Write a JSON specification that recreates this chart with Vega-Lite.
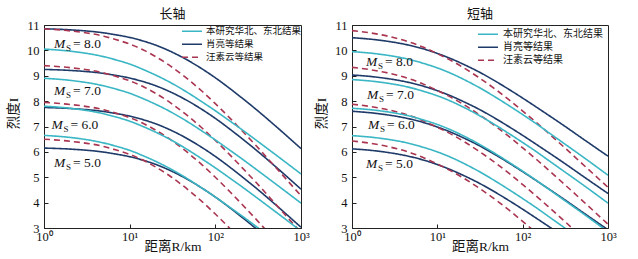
{
"$schema":"https://vega.github.io/schema/vega-lite/v6.json",
"padding":{"left":6,"top":7,"right":0,"bottom":0},
"bounds":"flush",
"spacing":51,
"config":{"view":{"stroke":"#222","strokeWidth":1},"font":"Liberation Serif, Noto Sans CJK SC","axis":{"grid":false,"domainColor":"#222","tickColor":"#222","labelColor":"#111","titleColor":"#111","labelFont":"Liberation Serif","labelFontSize":12.5,"labelOverlap":false,"titleFont":"Liberation Serif, Noto Sans CJK SC","titleFontSize":13.5,"titleFontWeight":"normal"}},
"datasets":{
"curves":[
{"p":"L","s":"b","m":8,"r":1,"i":10.85},{"p":"L","s":"b","m":8,"r":2,"i":10.81},{"p":"L","s":"b","m":8,"r":5,"i":10.69},{"p":"L","s":"b","m":8,"r":7,"i":10.61},{"p":"L","s":"b","m":8,"r":10,"i":10.51},{"p":"L","s":"b","m":8,"r":15,"i":10.35},{"p":"L","s":"b","m":8,"r":20,"i":10.21},{"p":"L","s":"b","m":8,"r":30,"i":9.96},{"p":"L","s":"b","m":8,"r":50,"i":9.57},{"p":"L","s":"b","m":8,"r":70,"i":9.27},{"p":"L","s":"b","m":8,"r":100,"i":8.92},{"p":"L","s":"b","m":8,"r":150,"i":8.48},{"p":"L","s":"b","m":8,"r":200,"i":8.15},{"p":"L","s":"b","m":8,"r":300,"i":7.67},{"p":"L","s":"b","m":8,"r":500,"i":7.03},{"p":"L","s":"b","m":8,"r":1000,"i":6.13},
{"p":"L","s":"b","m":7,"r":1,"i":9.25},{"p":"L","s":"b","m":7,"r":2,"i":9.21},{"p":"L","s":"b","m":7,"r":5,"i":9.09},{"p":"L","s":"b","m":7,"r":7,"i":9.01},{"p":"L","s":"b","m":7,"r":10,"i":8.91},{"p":"L","s":"b","m":7,"r":15,"i":8.75},{"p":"L","s":"b","m":7,"r":20,"i":8.61},{"p":"L","s":"b","m":7,"r":30,"i":8.36},{"p":"L","s":"b","m":7,"r":50,"i":7.97},{"p":"L","s":"b","m":7,"r":70,"i":7.67},{"p":"L","s":"b","m":7,"r":100,"i":7.32},{"p":"L","s":"b","m":7,"r":150,"i":6.88},{"p":"L","s":"b","m":7,"r":200,"i":6.55},{"p":"L","s":"b","m":7,"r":300,"i":6.07},{"p":"L","s":"b","m":7,"r":500,"i":5.43},{"p":"L","s":"b","m":7,"r":1000,"i":4.53},
{"p":"L","s":"b","m":6,"r":1,"i":7.75},{"p":"L","s":"b","m":6,"r":2,"i":7.71},{"p":"L","s":"b","m":6,"r":5,"i":7.59},{"p":"L","s":"b","m":6,"r":7,"i":7.51},{"p":"L","s":"b","m":6,"r":10,"i":7.41},{"p":"L","s":"b","m":6,"r":15,"i":7.25},{"p":"L","s":"b","m":6,"r":20,"i":7.11},{"p":"L","s":"b","m":6,"r":30,"i":6.86},{"p":"L","s":"b","m":6,"r":50,"i":6.47},{"p":"L","s":"b","m":6,"r":70,"i":6.17},{"p":"L","s":"b","m":6,"r":100,"i":5.82},{"p":"L","s":"b","m":6,"r":150,"i":5.38},{"p":"L","s":"b","m":6,"r":200,"i":5.05},{"p":"L","s":"b","m":6,"r":300,"i":4.57},{"p":"L","s":"b","m":6,"r":500,"i":3.93},{"p":"L","s":"b","m":6,"r":1000,"i":3.03},
{"p":"L","s":"b","m":5,"r":1,"i":6.15},{"p":"L","s":"b","m":5,"r":2,"i":6.11},{"p":"L","s":"b","m":5,"r":5,"i":5.99},{"p":"L","s":"b","m":5,"r":7,"i":5.91},{"p":"L","s":"b","m":5,"r":10,"i":5.81},{"p":"L","s":"b","m":5,"r":15,"i":5.65},{"p":"L","s":"b","m":5,"r":20,"i":5.51},{"p":"L","s":"b","m":5,"r":30,"i":5.26},{"p":"L","s":"b","m":5,"r":50,"i":4.87},{"p":"L","s":"b","m":5,"r":70,"i":4.57},{"p":"L","s":"b","m":5,"r":100,"i":4.22},{"p":"L","s":"b","m":5,"r":150,"i":3.78},{"p":"L","s":"b","m":5,"r":200,"i":3.45},{"p":"L","s":"b","m":5,"r":300,"i":2.97},{"p":"L","s":"b","m":5,"r":500,"i":2.33},{"p":"L","s":"b","m":5,"r":1000,"i":1.43},
{"p":"L","s":"c","m":8,"r":1,"i":10.85},{"p":"L","s":"c","m":8,"r":2,"i":10.77},{"p":"L","s":"c","m":8,"r":5,"i":10.56},{"p":"L","s":"c","m":8,"r":7,"i":10.42},{"p":"L","s":"c","m":8,"r":10,"i":10.25},{"p":"L","s":"c","m":8,"r":15,"i":9.99},{"p":"L","s":"c","m":8,"r":20,"i":9.76},{"p":"L","s":"c","m":8,"r":30,"i":9.38},{"p":"L","s":"c","m":8,"r":50,"i":8.81},{"p":"L","s":"c","m":8,"r":70,"i":8.39},{"p":"L","s":"c","m":8,"r":100,"i":7.90},{"p":"L","s":"c","m":8,"r":150,"i":7.31},{"p":"L","s":"c","m":8,"r":200,"i":6.87},{"p":"L","s":"c","m":8,"r":300,"i":6.24},{"p":"L","s":"c","m":8,"r":500,"i":5.41},{"p":"L","s":"c","m":8,"r":1000,"i":4.27},
{"p":"L","s":"c","m":7,"r":1,"i":9.40},{"p":"L","s":"c","m":7,"r":2,"i":9.32},{"p":"L","s":"c","m":7,"r":5,"i":9.11},{"p":"L","s":"c","m":7,"r":7,"i":8.97},{"p":"L","s":"c","m":7,"r":10,"i":8.80},{"p":"L","s":"c","m":7,"r":15,"i":8.54},{"p":"L","s":"c","m":7,"r":20,"i":8.31},{"p":"L","s":"c","m":7,"r":30,"i":7.93},{"p":"L","s":"c","m":7,"r":50,"i":7.36},{"p":"L","s":"c","m":7,"r":70,"i":6.94},{"p":"L","s":"c","m":7,"r":100,"i":6.45},{"p":"L","s":"c","m":7,"r":150,"i":5.86},{"p":"L","s":"c","m":7,"r":200,"i":5.42},{"p":"L","s":"c","m":7,"r":300,"i":4.79},{"p":"L","s":"c","m":7,"r":500,"i":3.96},{"p":"L","s":"c","m":7,"r":1000,"i":2.82},
{"p":"L","s":"c","m":6,"r":1,"i":7.95},{"p":"L","s":"c","m":6,"r":2,"i":7.87},{"p":"L","s":"c","m":6,"r":5,"i":7.66},{"p":"L","s":"c","m":6,"r":7,"i":7.52},{"p":"L","s":"c","m":6,"r":10,"i":7.35},{"p":"L","s":"c","m":6,"r":15,"i":7.09},{"p":"L","s":"c","m":6,"r":20,"i":6.86},{"p":"L","s":"c","m":6,"r":30,"i":6.48},{"p":"L","s":"c","m":6,"r":50,"i":5.91},{"p":"L","s":"c","m":6,"r":70,"i":5.49},{"p":"L","s":"c","m":6,"r":100,"i":5.00},{"p":"L","s":"c","m":6,"r":150,"i":4.41},{"p":"L","s":"c","m":6,"r":200,"i":3.97},{"p":"L","s":"c","m":6,"r":300,"i":3.34},{"p":"L","s":"c","m":6,"r":500,"i":2.51},{"p":"L","s":"c","m":6,"r":1000,"i":1.37},
{"p":"L","s":"c","m":5,"r":1,"i":6.50},{"p":"L","s":"c","m":5,"r":2,"i":6.42},{"p":"L","s":"c","m":5,"r":5,"i":6.21},{"p":"L","s":"c","m":5,"r":7,"i":6.07},{"p":"L","s":"c","m":5,"r":10,"i":5.90},{"p":"L","s":"c","m":5,"r":15,"i":5.64},{"p":"L","s":"c","m":5,"r":20,"i":5.41},{"p":"L","s":"c","m":5,"r":30,"i":5.03},{"p":"L","s":"c","m":5,"r":50,"i":4.46},{"p":"L","s":"c","m":5,"r":70,"i":4.04},{"p":"L","s":"c","m":5,"r":100,"i":3.55},{"p":"L","s":"c","m":5,"r":150,"i":2.96},{"p":"L","s":"c","m":5,"r":200,"i":2.52},{"p":"L","s":"c","m":5,"r":300,"i":1.89},{"p":"L","s":"c","m":5,"r":500,"i":1.06},{"p":"L","s":"c","m":5,"r":1000,"i":-0.08},
{"p":"L","s":"a","m":8,"r":1,"i":10.05},{"p":"L","s":"a","m":8,"r":2,"i":9.97},{"p":"L","s":"a","m":8,"r":5,"i":9.75},{"p":"L","s":"a","m":8,"r":7,"i":9.62},{"p":"L","s":"a","m":8,"r":10,"i":9.46},{"p":"L","s":"a","m":8,"r":15,"i":9.22},{"p":"L","s":"a","m":8,"r":20,"i":9.03},{"p":"L","s":"a","m":8,"r":30,"i":8.73},{"p":"L","s":"a","m":8,"r":50,"i":8.29},{"p":"L","s":"a","m":8,"r":70,"i":7.97},{"p":"L","s":"a","m":8,"r":100,"i":7.62},{"p":"L","s":"a","m":8,"r":150,"i":7.20},{"p":"L","s":"a","m":8,"r":200,"i":6.90},{"p":"L","s":"a","m":8,"r":300,"i":6.46},{"p":"L","s":"a","m":8,"r":500,"i":5.90},{"p":"L","s":"a","m":8,"r":1000,"i":5.13},
{"p":"L","s":"a","m":7,"r":1,"i":8.90},{"p":"L","s":"a","m":7,"r":2,"i":8.82},{"p":"L","s":"a","m":7,"r":5,"i":8.60},{"p":"L","s":"a","m":7,"r":7,"i":8.47},{"p":"L","s":"a","m":7,"r":10,"i":8.31},{"p":"L","s":"a","m":7,"r":15,"i":8.07},{"p":"L","s":"a","m":7,"r":20,"i":7.88},{"p":"L","s":"a","m":7,"r":30,"i":7.58},{"p":"L","s":"a","m":7,"r":50,"i":7.14},{"p":"L","s":"a","m":7,"r":70,"i":6.82},{"p":"L","s":"a","m":7,"r":100,"i":6.47},{"p":"L","s":"a","m":7,"r":150,"i":6.05},{"p":"L","s":"a","m":7,"r":200,"i":5.75},{"p":"L","s":"a","m":7,"r":300,"i":5.31},{"p":"L","s":"a","m":7,"r":500,"i":4.75},{"p":"L","s":"a","m":7,"r":1000,"i":3.98},
{"p":"L","s":"a","m":6,"r":1,"i":7.80},{"p":"L","s":"a","m":6,"r":2,"i":7.72},{"p":"L","s":"a","m":6,"r":5,"i":7.50},{"p":"L","s":"a","m":6,"r":7,"i":7.37},{"p":"L","s":"a","m":6,"r":10,"i":7.21},{"p":"L","s":"a","m":6,"r":15,"i":6.97},{"p":"L","s":"a","m":6,"r":20,"i":6.78},{"p":"L","s":"a","m":6,"r":30,"i":6.48},{"p":"L","s":"a","m":6,"r":50,"i":6.04},{"p":"L","s":"a","m":6,"r":70,"i":5.72},{"p":"L","s":"a","m":6,"r":100,"i":5.37},{"p":"L","s":"a","m":6,"r":150,"i":4.95},{"p":"L","s":"a","m":6,"r":200,"i":4.65},{"p":"L","s":"a","m":6,"r":300,"i":4.21},{"p":"L","s":"a","m":6,"r":500,"i":3.65},{"p":"L","s":"a","m":6,"r":1000,"i":2.88},
{"p":"L","s":"a","m":5,"r":1,"i":6.65},{"p":"L","s":"a","m":5,"r":2,"i":6.57},{"p":"L","s":"a","m":5,"r":5,"i":6.35},{"p":"L","s":"a","m":5,"r":7,"i":6.22},{"p":"L","s":"a","m":5,"r":10,"i":6.06},{"p":"L","s":"a","m":5,"r":15,"i":5.82},{"p":"L","s":"a","m":5,"r":20,"i":5.63},{"p":"L","s":"a","m":5,"r":30,"i":5.33},{"p":"L","s":"a","m":5,"r":50,"i":4.89},{"p":"L","s":"a","m":5,"r":70,"i":4.57},{"p":"L","s":"a","m":5,"r":100,"i":4.22},{"p":"L","s":"a","m":5,"r":150,"i":3.80},{"p":"L","s":"a","m":5,"r":200,"i":3.50},{"p":"L","s":"a","m":5,"r":300,"i":3.06},{"p":"L","s":"a","m":5,"r":500,"i":2.50},{"p":"L","s":"a","m":5,"r":1000,"i":1.73},
{"p":"S","s":"b","m":8,"r":1,"i":10.50},{"p":"S","s":"b","m":8,"r":2,"i":10.41},{"p":"S","s":"b","m":8,"r":5,"i":10.18},{"p":"S","s":"b","m":8,"r":7,"i":10.05},{"p":"S","s":"b","m":8,"r":10,"i":9.88},{"p":"S","s":"b","m":8,"r":15,"i":9.65},{"p":"S","s":"b","m":8,"r":20,"i":9.46},{"p":"S","s":"b","m":8,"r":30,"i":9.17},{"p":"S","s":"b","m":8,"r":50,"i":8.75},{"p":"S","s":"b","m":8,"r":70,"i":8.45},{"p":"S","s":"b","m":8,"r":100,"i":8.12},{"p":"S","s":"b","m":8,"r":150,"i":7.73},{"p":"S","s":"b","m":8,"r":200,"i":7.45},{"p":"S","s":"b","m":8,"r":300,"i":7.05},{"p":"S","s":"b","m":8,"r":500,"i":6.53},{"p":"S","s":"b","m":8,"r":1000,"i":5.83},
{"p":"S","s":"b","m":7,"r":1,"i":9.03},{"p":"S","s":"b","m":7,"r":2,"i":8.94},{"p":"S","s":"b","m":7,"r":5,"i":8.71},{"p":"S","s":"b","m":7,"r":7,"i":8.58},{"p":"S","s":"b","m":7,"r":10,"i":8.41},{"p":"S","s":"b","m":7,"r":15,"i":8.18},{"p":"S","s":"b","m":7,"r":20,"i":7.99},{"p":"S","s":"b","m":7,"r":30,"i":7.70},{"p":"S","s":"b","m":7,"r":50,"i":7.28},{"p":"S","s":"b","m":7,"r":70,"i":6.98},{"p":"S","s":"b","m":7,"r":100,"i":6.65},{"p":"S","s":"b","m":7,"r":150,"i":6.26},{"p":"S","s":"b","m":7,"r":200,"i":5.98},{"p":"S","s":"b","m":7,"r":300,"i":5.58},{"p":"S","s":"b","m":7,"r":500,"i":5.06},{"p":"S","s":"b","m":7,"r":1000,"i":4.36},
{"p":"S","s":"b","m":6,"r":1,"i":7.60},{"p":"S","s":"b","m":6,"r":2,"i":7.51},{"p":"S","s":"b","m":6,"r":5,"i":7.28},{"p":"S","s":"b","m":6,"r":7,"i":7.15},{"p":"S","s":"b","m":6,"r":10,"i":6.98},{"p":"S","s":"b","m":6,"r":15,"i":6.75},{"p":"S","s":"b","m":6,"r":20,"i":6.56},{"p":"S","s":"b","m":6,"r":30,"i":6.27},{"p":"S","s":"b","m":6,"r":50,"i":5.85},{"p":"S","s":"b","m":6,"r":70,"i":5.55},{"p":"S","s":"b","m":6,"r":100,"i":5.22},{"p":"S","s":"b","m":6,"r":150,"i":4.83},{"p":"S","s":"b","m":6,"r":200,"i":4.55},{"p":"S","s":"b","m":6,"r":300,"i":4.15},{"p":"S","s":"b","m":6,"r":500,"i":3.63},{"p":"S","s":"b","m":6,"r":1000,"i":2.93},
{"p":"S","s":"b","m":5,"r":1,"i":6.12},{"p":"S","s":"b","m":5,"r":2,"i":6.03},{"p":"S","s":"b","m":5,"r":5,"i":5.80},{"p":"S","s":"b","m":5,"r":7,"i":5.67},{"p":"S","s":"b","m":5,"r":10,"i":5.50},{"p":"S","s":"b","m":5,"r":15,"i":5.27},{"p":"S","s":"b","m":5,"r":20,"i":5.08},{"p":"S","s":"b","m":5,"r":30,"i":4.79},{"p":"S","s":"b","m":5,"r":50,"i":4.37},{"p":"S","s":"b","m":5,"r":70,"i":4.07},{"p":"S","s":"b","m":5,"r":100,"i":3.74},{"p":"S","s":"b","m":5,"r":150,"i":3.35},{"p":"S","s":"b","m":5,"r":200,"i":3.07},{"p":"S","s":"b","m":5,"r":300,"i":2.67},{"p":"S","s":"b","m":5,"r":500,"i":2.15},{"p":"S","s":"b","m":5,"r":1000,"i":1.45},
{"p":"S","s":"c","m":8,"r":1,"i":10.78},{"p":"S","s":"c","m":8,"r":2,"i":10.64},{"p":"S","s":"c","m":8,"r":5,"i":10.30},{"p":"S","s":"c","m":8,"r":7,"i":10.11},{"p":"S","s":"c","m":8,"r":10,"i":9.87},{"p":"S","s":"c","m":8,"r":15,"i":9.57},{"p":"S","s":"c","m":8,"r":20,"i":9.33},{"p":"S","s":"c","m":8,"r":30,"i":8.95},{"p":"S","s":"c","m":8,"r":50,"i":8.42},{"p":"S","s":"c","m":8,"r":70,"i":8.04},{"p":"S","s":"c","m":8,"r":100,"i":7.61},{"p":"S","s":"c","m":8,"r":150,"i":7.11},{"p":"S","s":"c","m":8,"r":200,"i":6.74},{"p":"S","s":"c","m":8,"r":300,"i":6.21},{"p":"S","s":"c","m":8,"r":500,"i":5.53},{"p":"S","s":"c","m":8,"r":1000,"i":4.60},
{"p":"S","s":"c","m":7,"r":1,"i":9.33},{"p":"S","s":"c","m":7,"r":2,"i":9.19},{"p":"S","s":"c","m":7,"r":5,"i":8.85},{"p":"S","s":"c","m":7,"r":7,"i":8.66},{"p":"S","s":"c","m":7,"r":10,"i":8.42},{"p":"S","s":"c","m":7,"r":15,"i":8.12},{"p":"S","s":"c","m":7,"r":20,"i":7.88},{"p":"S","s":"c","m":7,"r":30,"i":7.50},{"p":"S","s":"c","m":7,"r":50,"i":6.97},{"p":"S","s":"c","m":7,"r":70,"i":6.59},{"p":"S","s":"c","m":7,"r":100,"i":6.16},{"p":"S","s":"c","m":7,"r":150,"i":5.66},{"p":"S","s":"c","m":7,"r":200,"i":5.29},{"p":"S","s":"c","m":7,"r":300,"i":4.76},{"p":"S","s":"c","m":7,"r":500,"i":4.08},{"p":"S","s":"c","m":7,"r":1000,"i":3.15},
{"p":"S","s":"c","m":6,"r":1,"i":7.88},{"p":"S","s":"c","m":6,"r":2,"i":7.74},{"p":"S","s":"c","m":6,"r":5,"i":7.40},{"p":"S","s":"c","m":6,"r":7,"i":7.21},{"p":"S","s":"c","m":6,"r":10,"i":6.97},{"p":"S","s":"c","m":6,"r":15,"i":6.67},{"p":"S","s":"c","m":6,"r":20,"i":6.43},{"p":"S","s":"c","m":6,"r":30,"i":6.05},{"p":"S","s":"c","m":6,"r":50,"i":5.52},{"p":"S","s":"c","m":6,"r":70,"i":5.14},{"p":"S","s":"c","m":6,"r":100,"i":4.71},{"p":"S","s":"c","m":6,"r":150,"i":4.21},{"p":"S","s":"c","m":6,"r":200,"i":3.84},{"p":"S","s":"c","m":6,"r":300,"i":3.31},{"p":"S","s":"c","m":6,"r":500,"i":2.63},{"p":"S","s":"c","m":6,"r":1000,"i":1.70},
{"p":"S","s":"c","m":5,"r":1,"i":6.43},{"p":"S","s":"c","m":5,"r":2,"i":6.29},{"p":"S","s":"c","m":5,"r":5,"i":5.95},{"p":"S","s":"c","m":5,"r":7,"i":5.76},{"p":"S","s":"c","m":5,"r":10,"i":5.52},{"p":"S","s":"c","m":5,"r":15,"i":5.22},{"p":"S","s":"c","m":5,"r":20,"i":4.98},{"p":"S","s":"c","m":5,"r":30,"i":4.60},{"p":"S","s":"c","m":5,"r":50,"i":4.07},{"p":"S","s":"c","m":5,"r":70,"i":3.69},{"p":"S","s":"c","m":5,"r":100,"i":3.26},{"p":"S","s":"c","m":5,"r":150,"i":2.76},{"p":"S","s":"c","m":5,"r":200,"i":2.39},{"p":"S","s":"c","m":5,"r":300,"i":1.86},{"p":"S","s":"c","m":5,"r":500,"i":1.18},{"p":"S","s":"c","m":5,"r":1000,"i":0.25},
{"p":"S","s":"a","m":8,"r":1,"i":9.95},{"p":"S","s":"a","m":8,"r":2,"i":9.86},{"p":"S","s":"a","m":8,"r":5,"i":9.62},{"p":"S","s":"a","m":8,"r":7,"i":9.48},{"p":"S","s":"a","m":8,"r":10,"i":9.31},{"p":"S","s":"a","m":8,"r":15,"i":9.07},{"p":"S","s":"a","m":8,"r":20,"i":8.87},{"p":"S","s":"a","m":8,"r":30,"i":8.56},{"p":"S","s":"a","m":8,"r":50,"i":8.12},{"p":"S","s":"a","m":8,"r":70,"i":7.81},{"p":"S","s":"a","m":8,"r":100,"i":7.47},{"p":"S","s":"a","m":8,"r":150,"i":7.07},{"p":"S","s":"a","m":8,"r":200,"i":6.77},{"p":"S","s":"a","m":8,"r":300,"i":6.35},{"p":"S","s":"a","m":8,"r":500,"i":5.82},{"p":"S","s":"a","m":8,"r":1000,"i":5.08},
{"p":"S","s":"a","m":7,"r":1,"i":8.85},{"p":"S","s":"a","m":7,"r":2,"i":8.76},{"p":"S","s":"a","m":7,"r":5,"i":8.52},{"p":"S","s":"a","m":7,"r":7,"i":8.38},{"p":"S","s":"a","m":7,"r":10,"i":8.21},{"p":"S","s":"a","m":7,"r":15,"i":7.97},{"p":"S","s":"a","m":7,"r":20,"i":7.77},{"p":"S","s":"a","m":7,"r":30,"i":7.46},{"p":"S","s":"a","m":7,"r":50,"i":7.02},{"p":"S","s":"a","m":7,"r":70,"i":6.71},{"p":"S","s":"a","m":7,"r":100,"i":6.37},{"p":"S","s":"a","m":7,"r":150,"i":5.97},{"p":"S","s":"a","m":7,"r":200,"i":5.67},{"p":"S","s":"a","m":7,"r":300,"i":5.25},{"p":"S","s":"a","m":7,"r":500,"i":4.72},{"p":"S","s":"a","m":7,"r":1000,"i":3.98},
{"p":"S","s":"a","m":6,"r":1,"i":7.72},{"p":"S","s":"a","m":6,"r":2,"i":7.63},{"p":"S","s":"a","m":6,"r":5,"i":7.39},{"p":"S","s":"a","m":6,"r":7,"i":7.25},{"p":"S","s":"a","m":6,"r":10,"i":7.08},{"p":"S","s":"a","m":6,"r":15,"i":6.84},{"p":"S","s":"a","m":6,"r":20,"i":6.64},{"p":"S","s":"a","m":6,"r":30,"i":6.33},{"p":"S","s":"a","m":6,"r":50,"i":5.89},{"p":"S","s":"a","m":6,"r":70,"i":5.58},{"p":"S","s":"a","m":6,"r":100,"i":5.24},{"p":"S","s":"a","m":6,"r":150,"i":4.84},{"p":"S","s":"a","m":6,"r":200,"i":4.54},{"p":"S","s":"a","m":6,"r":300,"i":4.12},{"p":"S","s":"a","m":6,"r":500,"i":3.59},{"p":"S","s":"a","m":6,"r":1000,"i":2.85},
{"p":"S","s":"a","m":5,"r":1,"i":6.64},{"p":"S","s":"a","m":5,"r":2,"i":6.55},{"p":"S","s":"a","m":5,"r":5,"i":6.31},{"p":"S","s":"a","m":5,"r":7,"i":6.17},{"p":"S","s":"a","m":5,"r":10,"i":6.00},{"p":"S","s":"a","m":5,"r":15,"i":5.76},{"p":"S","s":"a","m":5,"r":20,"i":5.56},{"p":"S","s":"a","m":5,"r":30,"i":5.25},{"p":"S","s":"a","m":5,"r":50,"i":4.81},{"p":"S","s":"a","m":5,"r":70,"i":4.50},{"p":"S","s":"a","m":5,"r":100,"i":4.16},{"p":"S","s":"a","m":5,"r":150,"i":3.76},{"p":"S","s":"a","m":5,"r":200,"i":3.46},{"p":"S","s":"a","m":5,"r":300,"i":3.04},{"p":"S","s":"a","m":5,"r":500,"i":2.51},{"p":"S","s":"a","m":5,"r":1000,"i":1.77}
],
"labels":[
{"p":"L","t":"= 8.0","r":1.31,"i":10.25},{"p":"L","t":"= 7.0","r":1.31,"i":8.4},{"p":"L","t":"= 6.0","r":1.22,"i":7.06},{"p":"L","t":"= 5.0","r":1.31,"i":5.57},
{"p":"S","t":"= 8.0","r":1.46,"i":9.54},{"p":"S","t":"= 7.0","r":1.5,"i":8.24},{"p":"S","t":"= 6.0","r":1.54,"i":7.04},{"p":"S","t":"= 5.0","r":1.46,"i":5.53}
]
},
"hconcat":[
{"width":257,"height":203,
"title":{"text":"长轴","font":"Noto Sans CJK SC","fontSize":13,"fontWeight":"normal","color":"#111","offset":-2},
"encoding":{
"x":{"field":"r","type":"quantitative","scale":{"type":"log","domain":[1,1000]},"axis":{"values":[1,10,100,1000],"labelExpr":"datum.value==1?'10⁰':datum.value==10?'10¹':datum.value==100?'10²':'10³'","title":"距离R/km","tickSize":-4,"labelPadding":6,"titlePadding":-3,"labelFlush":false,"labelOverlap":false}},
"y":{"field":"i","type":"quantitative","scale":{"domain":[3,11]},"axis":{"values":[3,4,5,6,7,8,9,10,11],"title":"烈度I","tickSize":-4,"labelPadding":9,"titlePadding":6,"titleY":88,"labelOverlap":false,"labelBound":false}}},
"layer":[
{"data":{"name":"curves"},"transform":[{"filter":"datum.p==='L'"}],
"mark":{"type":"line","clip":true,"strokeWidth":1.6,"interpolate":"monotone"},
"encoding":{
"color":{"field":"s","type":"nominal","scale":{"domain":["a","b","c"],"range":["#3ab6c4","#1e3a68","#aa3550"]},"legend":{"title":null,"orient":"none","legendX":137,"legendY":0,"symbolType":"stroke","symbolSize":400,"symbolStrokeWidth":1.6,"clipHeight":12.5,"rowPadding":0,"padding":0,"labelFont":"Noto Sans CJK SC","labelFontSize":9.5,"labelOffset":3,"labelColor":"#111","labelExpr":"datum.label=='a'?'本研究华北、东北结果':datum.label=='b'?'肖亮等结果':'汪素云等结果'"}},
"strokeDash":{"field":"s","type":"nominal","scale":{"domain":["a","b","c"],"range":[[1,0],[1,0],[6,4]]},"legend":{"title":null,"orient":"none","legendX":137,"legendY":0,"symbolType":"stroke","symbolSize":400,"symbolStrokeWidth":1.6,"clipHeight":12.5,"rowPadding":0,"padding":0,"labelFont":"Noto Sans CJK SC","labelFontSize":9.5,"labelOffset":3,"labelColor":"#111","labelExpr":"datum.label=='a'?'本研究华北、东北结果':datum.label=='b'?'肖亮等结果':'汪素云等结果'"}},
"detail":{"field":"m","type":"nominal"}}},
{"data":{"name":"labels"},"transform":[{"filter":"datum.p==='L'"}],"mark":{"type":"text","text":"M","font":"Liberation Serif","fontStyle":"italic","fontSize":13.5,"align":"left","baseline":"middle","color":"#111"}},
{"data":{"name":"labels"},"transform":[{"filter":"datum.p==='L'"}],"mark":{"type":"text","text":"S","font":"Liberation Serif","fontSize":9,"align":"left","baseline":"middle","dx":12,"dy":4,"color":"#111"}},
{"data":{"name":"labels"},"transform":[{"filter":"datum.p==='L'"}],"mark":{"type":"text","font":"Liberation Serif","fontSize":13.5,"align":"left","baseline":"middle","dx":19,"color":"#111"},"encoding":{"text":{"field":"t"}}}
]},
{"width":256,"height":203,
"title":{"text":"短轴","font":"Noto Sans CJK SC","fontSize":13,"fontWeight":"normal","color":"#111","offset":-2},
"encoding":{
"x":{"field":"r","type":"quantitative","scale":{"type":"log","domain":[1,1000]},"axis":{"values":[1,10,100,1000],"labelExpr":"datum.value==1?'10⁰':datum.value==10?'10¹':datum.value==100?'10²':'10³'","title":"距离R/km","tickSize":-4,"labelPadding":6,"titlePadding":-3,"labelFlush":false,"labelOverlap":false}},
"y":{"field":"i","type":"quantitative","scale":{"domain":[3,11]},"axis":{"values":[3,4,5,6,7,8,9,10,11],"title":"烈度I","tickSize":-4,"labelPadding":9,"titlePadding":6,"titleY":88,"labelOverlap":false,"labelBound":false}}},
"layer":[
{"data":{"name":"curves"},"transform":[{"filter":"datum.p==='S'"}],
"mark":{"type":"line","clip":true,"strokeWidth":1.6,"interpolate":"monotone"},
"encoding":{
"color":{"field":"s","type":"nominal","scale":{"domain":["a","b","c"],"range":["#3ab6c4","#1e3a68","#aa3550"]},"legend":{"title":null,"orient":"none","legendX":125,"legendY":3,"symbolType":"stroke","symbolSize":400,"symbolStrokeWidth":1.6,"clipHeight":12.5,"rowPadding":0,"padding":0,"labelFont":"Noto Sans CJK SC","labelFontSize":10,"labelOffset":4,"labelColor":"#111","labelExpr":"datum.label=='a'?'本研究华北、东北结果':datum.label=='b'?'肖亮等结果':'汪素云等结果'"}},
"strokeDash":{"field":"s","type":"nominal","scale":{"domain":["a","b","c"],"range":[[1,0],[1,0],[6,4]]},"legend":{"title":null,"orient":"none","legendX":125,"legendY":3,"symbolType":"stroke","symbolSize":400,"symbolStrokeWidth":1.6,"clipHeight":12.5,"rowPadding":0,"padding":0,"labelFont":"Noto Sans CJK SC","labelFontSize":10,"labelOffset":4,"labelColor":"#111","labelExpr":"datum.label=='a'?'本研究华北、东北结果':datum.label=='b'?'肖亮等结果':'汪素云等结果'"}},
"detail":{"field":"m","type":"nominal"}}},
{"data":{"name":"labels"},"transform":[{"filter":"datum.p==='S'"}],"mark":{"type":"text","text":"M","font":"Liberation Serif","fontStyle":"italic","fontSize":13.5,"align":"left","baseline":"middle","color":"#111"}},
{"data":{"name":"labels"},"transform":[{"filter":"datum.p==='S'"}],"mark":{"type":"text","text":"S","font":"Liberation Serif","fontSize":9,"align":"left","baseline":"middle","dx":12,"dy":4,"color":"#111"}},
{"data":{"name":"labels"},"transform":[{"filter":"datum.p==='S'"}],"mark":{"type":"text","font":"Liberation Serif","fontSize":13.5,"align":"left","baseline":"middle","dx":19,"color":"#111"},"encoding":{"text":{"field":"t"}}}
]}
],
"resolve":{"scale":{"color":"independent","strokeDash":"independent","x":"independent","y":"independent"},"legend":{"color":"independent","strokeDash":"independent"}}
}
